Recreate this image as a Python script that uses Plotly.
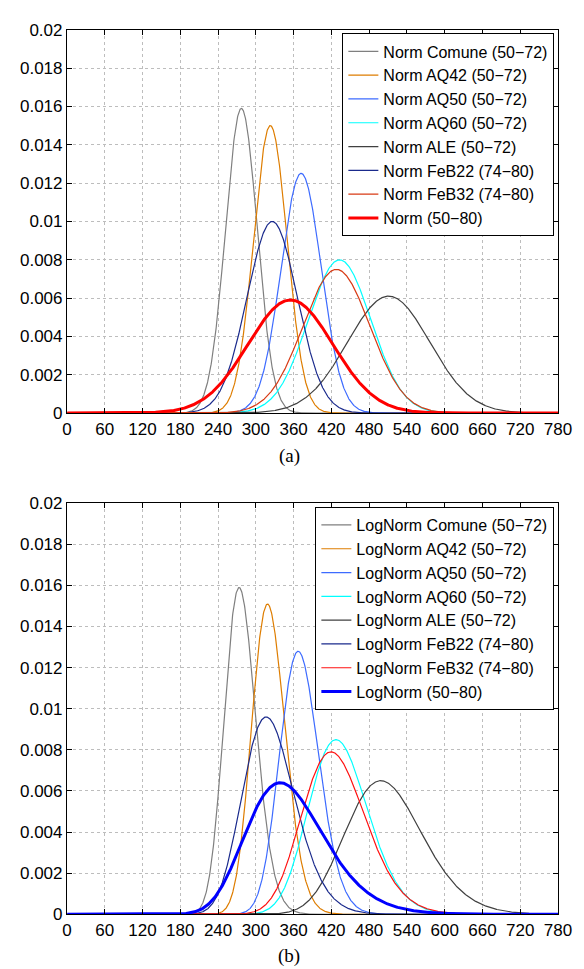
import numpy as np
import plotly.graph_objects as go

# ---------------- data ----------------
series_names = ["Comune (50\u221272)", "AQ42 (50\u221272)", "AQ50 (50\u221272)", "AQ60 (50\u221272)",
                "ALE (50\u221272)", "FeB22 (74\u221280)", "FeB32 (74\u221280)", "(50\u221280)"]

# Normal fits: mean and standard deviation
norm_mean = [277, 323, 372, 433, 511, 326, 428, 355]
norm_std = [25.1, 26.6, 31.9, 49.9, 65.4, 39.9, 53.2, 67.6]

# Log-normal fits: mu and sigma of ln(x)
lognorm_mu = [5.6193, 5.7705, 5.9131, 6.0694, 6.2265, 5.7740, 6.0531, 5.8576]
lognorm_sigma = [0.0914, 0.0827, 0.0846, 0.1092, 0.1222, 0.1302, 0.1195, 0.1811]

x_ticks = list(range(0, 781, 60))
y_ticks = [0, 0.002, 0.004, 0.006, 0.008, 0.01, 0.012, 0.014, 0.016, 0.018, 0.02]
y_tick_labels = ["0", "0.002", "0.004", "0.006", "0.008", "0.01", "0.012", "0.014", "0.016", "0.018", "0.02"]
panel_labels = ["(a)", "(b)"]

# ---------------- styles ----------------
colors_top = ["#7f7f7f", "#de7d00", "#3d6bff", "#00ffff", "#404040", "#1a2a8c", "#d83a14", "#ff0000"]
colors_bot = ["#7f7f7f", "#de7d00", "#3d6bff", "#00ffff", "#404040", "#1a2a8c", "#ff1010", "#0000ff"]
widths = [1.2, 1.2, 1.2, 1.2, 1.2, 1.2, 1.2, 3.0]

# page offset (browser body margin) compensation
OFF = 8
W, H = 584 - OFF, 969 - OFF
ML, MR, MT, MB = 55 - OFF, 17, 20 - OFF, 54
PW, PH = W - ML - MR, H - MT - MB

x = np.linspace(0.5, 780, 1560)


def norm_pdf(xv, m, s):
    return np.exp(-(xv - m) ** 2 / (2 * s * s)) / (s * np.sqrt(2 * np.pi))


def lognorm_pdf(xv, mu, s):
    return np.exp(-(np.log(xv) - mu) ** 2 / (2 * s * s)) / (xv * s * np.sqrt(2 * np.pi))


fig = go.Figure()

for i, name in enumerate(series_names):
    fig.add_trace(go.Scatter(
        x=x, y=norm_pdf(x, norm_mean[i], norm_std[i]), mode="lines",
        name="Norm " + name, line=dict(color=colors_top[i], width=widths[i]),
        xaxis="x", yaxis="y", legend="legend"))

for i, name in enumerate(series_names):
    fig.add_trace(go.Scatter(
        x=x, y=lognorm_pdf(x, lognorm_mu[i], lognorm_sigma[i]), mode="lines",
        name="LogNorm " + name, line=dict(color=colors_bot[i], width=widths[i]),
        xaxis="x2", yaxis="y2", legend="legend2"))

tick_font = dict(family="Liberation Sans, Arial, sans-serif", size=17, color="black")

xaxis_common = dict(
    range=[0, 780], tickvals=x_ticks, ticks="inside", ticklen=5, tickcolor="black",
    showline=True, linecolor="black", linewidth=1.2, mirror="ticks",
    showgrid=True, gridcolor="#bdbdbd", griddash="dot", gridwidth=1,
    zeroline=False, tickfont=tick_font, fixedrange=True)
yaxis_common = dict(
    range=[0, 0.02], tickvals=y_ticks, ticktext=y_tick_labels, ticks="inside", ticklen=5,
    tickcolor="black", showline=True, linecolor="black", linewidth=1.2, mirror="ticks",
    showgrid=True, gridcolor="#bdbdbd", griddash="dot", gridwidth=1,
    zeroline=False, tickfont=tick_font, fixedrange=True)

legend_common = dict(
    xanchor="right", yanchor="top", x=(563 - OFF - ML) / PW,
    bgcolor="white", bordercolor="black", borderwidth=1.2,
    font=dict(family="Liberation Sans, Arial, sans-serif", size=16, color="black"),
    itemwidth=30, tracegroupgap=0)


def py(page_y):
    return (H - MB - (page_y - OFF)) / PH


def px(page_x):
    return (page_x - OFF - ML) / PW


fig.update_layout(
    width=W, height=H,
    margin=dict(l=ML, r=MR, t=MT, b=MB),
    paper_bgcolor="white", plot_bgcolor="white",
    showlegend=True,
    xaxis=dict(domain=[0, 1], anchor="y", **xaxis_common),
    yaxis=dict(domain=[py(408), py(20.7)], anchor="x", **yaxis_common),
    xaxis2=dict(domain=[0, 1], anchor="y2", **xaxis_common),
    yaxis2=dict(domain=[py(914.3), py(499)], anchor="x2", **yaxis_common),
    legend=dict(y=py(24.3), **legend_common),
    legend2=dict(y=py(502.7), **legend_common),
    annotations=[
        dict(text=panel_labels[0], x=px(286.5), y=py(451), xref="paper", yref="paper",
             xanchor="center", yanchor="middle", showarrow=False,
             font=dict(family="Liberation Serif, Times New Roman, serif", size=19, color="black")),
        dict(text=panel_labels[1], x=px(286.5), y=py(956), xref="paper", yref="paper",
             xanchor="center", yanchor="middle", showarrow=False,
             font=dict(family="Liberation Serif, Times New Roman, serif", size=19, color="black")),
    ],
)

fig.write_html("out.html")
